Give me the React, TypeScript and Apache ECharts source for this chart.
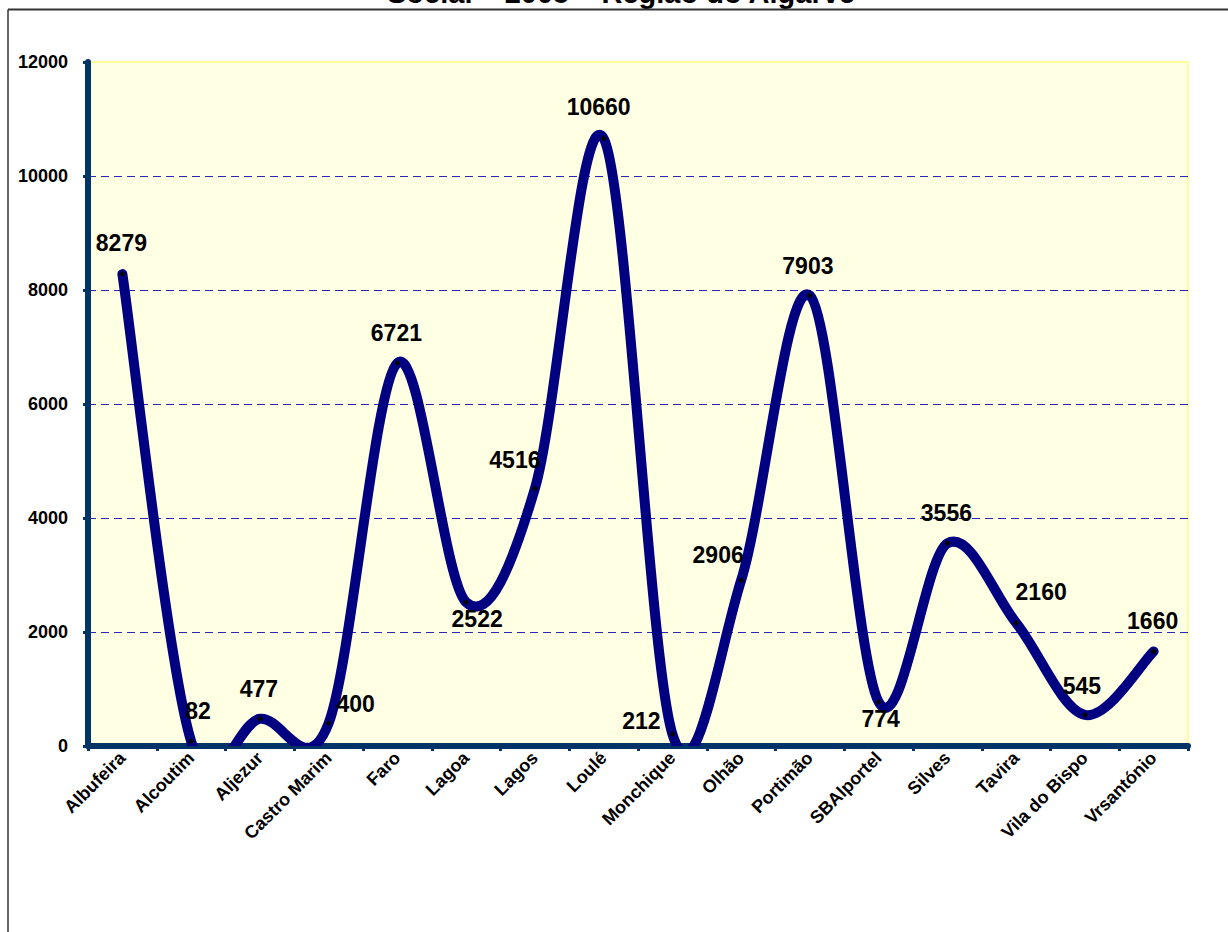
import React, { useEffect, useRef } from "react";
import * as echarts from "echarts";

const TITLE = "Social – 2005 – Região do Algarve";
const CATEGORIES = [
  "Albufeira", "Alcoutim", "Aljezur", "Castro Marim", "Faro", "Lagoa", "Lagos", "Loulé",
  "Monchique", "Olhão", "Portimão", "SBAlportel", "Silves", "Tavira", "Vila do Bispo", "Vrsantónio",
];
const VALUES = [8279, 82, 477, 400, 6721, 2522, 4516, 10660, 212, 2906, 7903, 774, 3556, 2160, 545, 1660];
const Y_TICKS = { min: 0, max: 12000, interval: 2000 };

// label placement (layout only): offset of label centre from its point
const LABEL_OFFSETS: [number, number][] = [
  [-1, -31], [7, -30], [-1, -30], [27, -19], [-1, -30], [11, 17], [-20, -29], [-5, -31],
  [-31, -13], [-23, -25], [-2, -30], [2, 17], [-1, -30], [25, -31], [-3, -29], [-1, -30],
];

const FONT = "'Liberation Sans', Arial, sans-serif";

export default function App() {
  const ref = useRef<HTMLDivElement>(null);
  useEffect(() => {
    if (!ref.current) return;
    const chart = echarts.init(ref.current, undefined, { renderer: "svg" });
    const option: any = {
      animation: false,
      backgroundColor: "#ffffff",
      grid: {
        left: 88,
        top: 62,
        right: 40,
        bottom: 186,
        show: true,
        backgroundColor: "#FFFFE3",
        borderColor: "#FFFF99",
        borderWidth: 2,
      },
      xAxis: {
        type: "category",
        data: CATEGORIES,
        boundaryGap: true,
        axisLine: { show: true, lineStyle: { color: "#003366", width: 6 } },
        axisTick: { show: true, length: 5, lineStyle: { color: "#003366", width: 3 } },
        axisLabel: {
          rotate: 45,
          interval: 0,
          margin: 9,
          color: "#000",
          fontFamily: FONT,
          fontWeight: "bold",
          fontSize: 18,
        },
        splitLine: { show: false },
      },
      yAxis: {
        type: "value",
        min: Y_TICKS.min,
        max: Y_TICKS.max,
        interval: Y_TICKS.interval,
        axisLine: { show: true, lineStyle: { color: "#003366", width: 6 } },
        axisTick: { show: true, length: 5, lineStyle: { color: "#003366", width: 3 } },
        axisLabel: {
          margin: 20,
          color: "#000",
          fontFamily: FONT,
          fontWeight: "bold",
          fontSize: 18,
          formatter: (v: number) => String(v),
        },
        splitLine: {
          show: true,
          showMaxLine: false,
          showMinLine: false,
          lineStyle: { color: "#2828B4", width: 1, type: [8, 5] },
        },
      },
      graphic: [
        {
          type: "text",
          x: 621,
          y: -7,
          style: {
            text: TITLE,
            fill: "#000",
            font: `bold 29px ${FONT}`,
            align: "center",
            verticalAlign: "middle",
          },
        },
        { type: "line", shape: { x1: 8, y1: 9.5, x2: 1228, y2: 9.5 }, style: { stroke: "#333", lineWidth: 2 } },
        { type: "line", shape: { x1: 8, y1: 9.5, x2: 8, y2: 932 }, style: { stroke: "#333", lineWidth: 1.5 } },
      ],
      series: [
        {
          type: "custom",
          clip: true,
          z: 3,
          data: VALUES.map((v, i) => [i, v]),
          renderItem: (params: any, api: any) => {
            if (params.dataIndex !== 0) return null;
            const pts = VALUES.map((v, i) => api.coord([i, v]));
            const n = pts.length;
            let d = `M${pts[0][0]},${pts[0][1]}`;
            for (let i = 0; i < n - 1; i++) {
              const p0 = pts[i - 1] || pts[i];
              const p1 = pts[i];
              const p2 = pts[i + 1];
              const p3 = pts[i + 2] || pts[i + 1];
              const c1x = p1[0] + (p2[0] - p0[0]) / 6;
              const c1y = p1[1] + (p2[1] - p0[1]) / 6;
              const c2x = p2[0] - (p3[0] - p1[0]) / 6;
              const c2y = p2[1] - (p3[1] - p1[1]) / 6;
              d += ` C${c1x},${c1y} ${c2x},${c2y} ${p2[0]},${p2[1]}`;
            }
            const cs = params.coordSys;
            return {
              type: "group",
              clipPath: { type: "rect", shape: { x: cs.x, y: cs.y, width: cs.width, height: cs.height } },
              children: [
                {
                  type: "path",
                  shape: { pathData: d },
                  style: {
                    fill: "none",
                    stroke: "#000080",
                    lineWidth: 10,
                    lineCap: "round",
                    lineJoin: "round",
                  },
                },
              ],
            };
          },
        },
        {
          type: "scatter",
          z: 4,
          symbol: "diamond",
          symbolSize: 6,
          itemStyle: { color: "#000", opacity: 1 },
          data: VALUES.map((v, i) => ({
            value: v,
            label: { offset: LABEL_OFFSETS[i] },
          })),
          label: {
            show: true,
            position: "inside",
            color: "#000",
            textBorderWidth: 0,
            fontFamily: FONT,
            fontWeight: "bold",
            fontSize: 23,
            formatter: (p: any) => String(VALUES[p.dataIndex]),
          },
        },
      ],
    };
    chart.setOption(option);
    return () => chart.dispose();
  }, []);
  return (
    <div
      ref={ref}
      style={{ position: "absolute", left: 0, top: 0, width: 1228, height: 932 }}
    />
  );
}
